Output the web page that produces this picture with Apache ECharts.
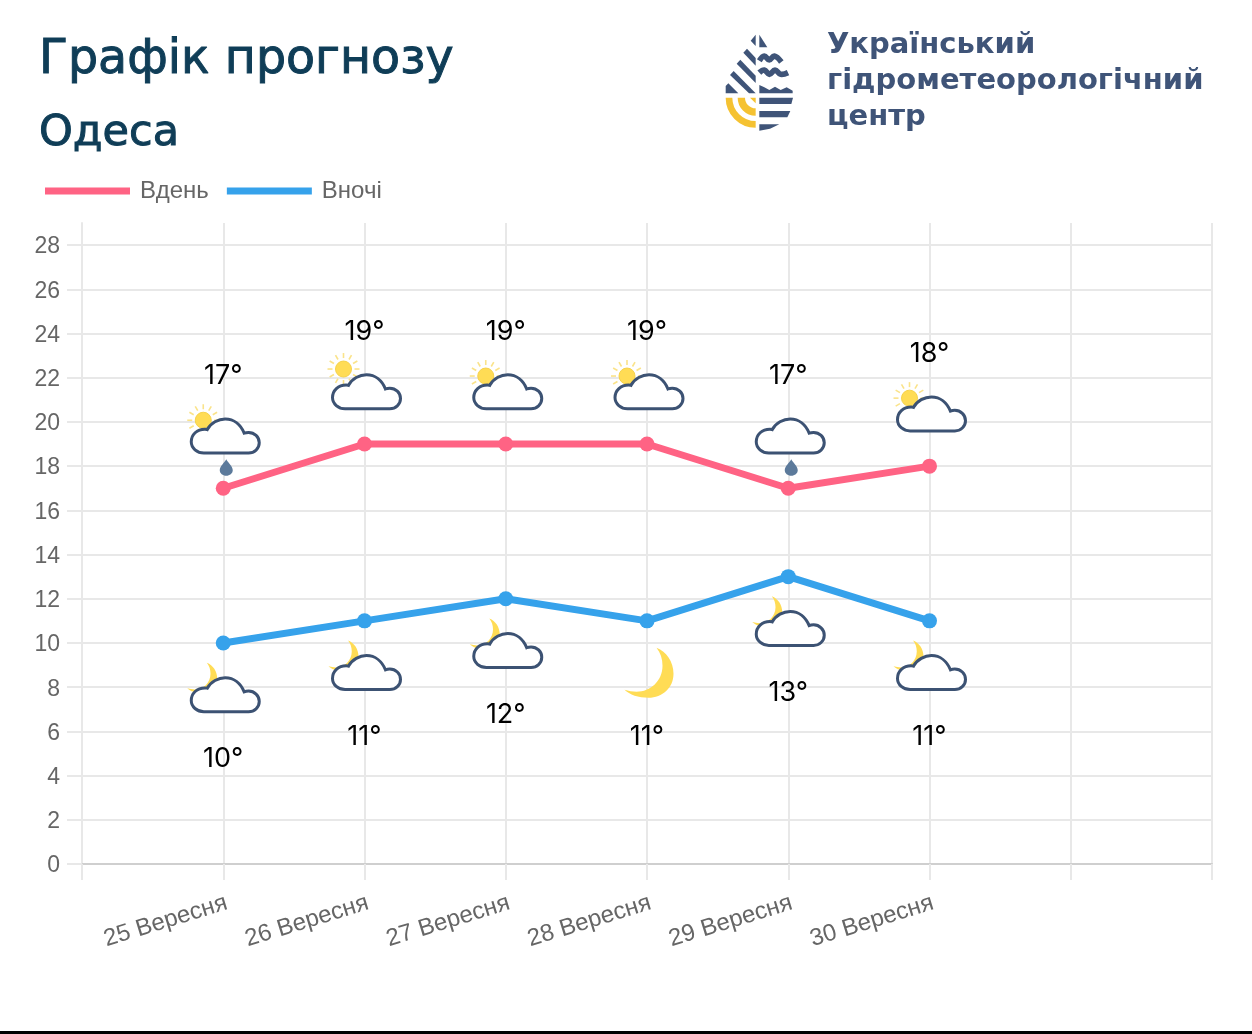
<!DOCTYPE html>
<html>
<head>
<meta charset="utf-8">
<title>Графік прогнозу</title>
<script src="https://cdn.jsdelivr.net/npm/echarts@6/dist/echarts.min.js"></script>
<style>
html, body { margin: 0; padding: 0; background: #fff; }
#chart { width: 1252px; height: 1034px; }
</style>
</head>
<body>
<div id="chart"></div>
<script>
// data
const days = ['', '25 Вересня', '26 Вересня', '27 Вересня', '28 Вересня', '29 Вересня', '30 Вересня', '', ''];
const dayTemps = ['-', 17, 19, 19, 19, 17, 18, '-', '-'];
const nightTemps = ['-', 10, 11, 12, 11, 13, 11, '-', '-'];
const dayIcons = ['', 'sunRain', 'sunHigh', 'sun', 'sun', 'rain', 'sun', '', ''];
const nightIcons = ['', 'moonCloud', 'moonCloud', 'moonCloud', 'moon', 'moonCloud', 'moonCloud', '', ''];
const yTicks = [0, 2, 4, 6, 8, 10, 12, 14, 16, 18, 20, 22, 24, 26, 28];

const PINK = '#ff6384';
const BLUE = '#36a2eb';
const GRID = '#e8e8e8';
const CLOUD = '#3c5273';
const YELLOW = '#ffdc55';
const LOGO = '#3f5478';
const LOGO_YELLOW = '#f5c232';
const TITLE = '#0f3d57';

const CLOUD_PATH = 'M13 35C6 35 0 30 0 23.5C0 16 6 10.5 14 10.5C15 10.5 16 10.6 16.5 10.8C20 4 28 0 35 0C44 0 51 6 54.5 14.6C56 14 57.5 13.8 59 13.8C65 13.8 70 18.5 70 24.5C70 30.5 65 35 59 35Z';
const MOON_PATH = 'M32 0C42 4 49 14 49 26C49 40 38 50 24 50C14 50 5 47 0 42C4 43 8 44 12 44C26 44 38 33 38 18C38 11 36 5 32 0Z';
const DROP_PATH = 'M6.5 0C8 3 13 7 13 11C13 14 10 16.5 6.5 16.5C3 16.5 0 14 0 11C0 7 5 3 6.5 0Z';

function cloud(cx, cy) {
    return {
        type: 'path',
        shape: { pathData: CLOUD_PATH, x: cx - 34, y: cy - 18, width: 68, height: 35.5 },
        style: { fill: '#fff', stroke: CLOUD, lineWidth: 3 }
    };
}

function moon(cx, cy, w, h) {
    return {
        type: 'path',
        shape: { pathData: MOON_PATH, x: cx - w / 2, y: cy - h / 2, width: w, height: h },
        style: { fill: YELLOW }
    };
}

function sun(cx, cy) {
    const out = [{
        type: 'circle',
        shape: { cx: cx, cy: cy, r: 8 },
        style: { fill: YELLOW, stroke: '#f6d24a', lineWidth: 1 }
    }];
    for (let i = 0; i < 12; i++) {
        const a = i * Math.PI / 6;
        out.push({
            type: 'line',
            shape: {
                x1: cx + Math.cos(a) * 11, y1: cy + Math.sin(a) * 11,
                x2: cx + Math.cos(a) * 16, y2: cy + Math.sin(a) * 16
            },
            style: { stroke: '#fae38a', lineWidth: 1.6 }
        });
    }
    return out;
}

function drawIcon(kind, x, y) {
    if (kind === 'moon') return [moon(x + 2, y + 52, 49, 50)];
    if (kind === 'moonCloud') {
        return [moon(x - 21, y + 35, 30, 30.6), cloud(x + 2, y + 52)];
    }
    const cy = y - 52;
    let kids = [];
    if (kind === 'sunHigh') kids = sun(x - 21, cy - 23);
    if (kind === 'sun' || kind === 'sunRain') kids = sun(x - 20, cy - 16);
    kids.push(cloud(x + 2, cy));
    if (kind === 'sunRain' || kind === 'rain') {
        kids.push({
            type: 'path',
            shape: { pathData: DROP_PATH, x: x - 3.5, y: y - 29, width: 13, height: 16.5 },
            style: { fill: '#5c7a9b' }
        });
    }
    return kids;
}

function iconSeries(temps, icons) {
    return {
        type: 'custom',
        coordinateSystem: 'cartesian2d',
        silent: true,
        clip: false,
        z: 1,
        data: temps.map((t, i) => [i, t]),
        encode: { x: 0, y: 1 },
        renderItem: function (params, api) {
            const kind = icons[params.dataIndex];
            if (!kind) return null;
            const p = api.coord([api.value(0), api.value(1)]);
            return { type: 'group', children: drawIcon(kind, p[0], p[1]) };
        }
    };
}

function tempSeries(name, temps, color, shift) {
    return {
        name: name,
        type: 'line',
        data: temps,
        z: 3,
        symbol: 'circle',
        symbolSize: 15,
        lineStyle: { color: color, width: 7 },
        itemStyle: { color: color },
        label: {
            show: true,
            position: 'inside',
            offset: [0, shift],
            formatter: '{c}°',
            color: '#000',
            fontFamily: 'Inter',
            fontSize: 27
        }
    };
}

// logo, drawn in 3x units then scaled down
function logoPoly(points, fill) {
    return { type: 'polygon', shape: { points: points }, style: { fill: fill } };
}
function logoWave(points, width) {
    return { type: 'polyline', shape: { points: points, smooth: 0.4 }, style: { stroke: LOGO, lineWidth: width, fill: null } };
}
function logoArc(r, width) {
    return {
        type: 'arc',
        shape: { cx: 107, cy: 203, r: r, startAngle: Math.PI / 2, endAngle: Math.PI, clockwise: true },
        style: { stroke: LOGO_YELLOW, lineWidth: width, fill: null, lineCap: 'butt' }
    };
}
const logoParts = [
    logoPoly([[92, 32], [107, 14], [107, 48]], LOGO),
    logoPoly([[118, 14], [118, 52], [142, 52]], LOGO),
    logoPoly([[70, 68], [81, 56], [107, 84], [107, 107]], LOGO),
    logoPoly([[50, 101], [61, 89], [107, 137], [107, 159]], LOGO),
    logoPoly([[30, 135], [41, 123], [107, 190], [87, 190]], LOGO),
    logoPoly([[17, 168], [25, 160], [55, 190], [17, 190]], LOGO),
    logoWave([[118, 92], [133, 78], [148, 90], [163, 78], [184, 96]], 17),
    logoWave([[118, 128], [133, 120], [148, 133], [165, 120], [182, 133], [204, 128]], 17),
    logoPoly([[118, 165], [133, 172], [148, 180], [165, 170], [182, 180], [200, 172], [218, 182], [218, 190], [118, 190]], LOGO),
    logoPoly([[118, 203], [219, 203], [214, 222], [118, 222]], LOGO),
    logoPoly([[118, 243], [211, 243], [202, 262], [118, 262]], LOGO),
    logoPoly([[118, 283], [178, 283], [150, 296], [118, 302]], LOGO),
    logoArc(80, 20),
    logoArc(43, 22),
    logoPoly([[90, 203], [107, 203], [107, 220]], LOGO_YELLOW)
];

const chart = echarts.init(document.getElementById('chart'));

chart.setOption({
    animation: false,
    backgroundColor: '#fff',
    textStyle: { fontFamily: 'Liberation Sans' },
    title: [
        { text: 'Графік прогнозу', left: 39, top: 37, padding: 0, textStyle: { fontFamily: 'DejaVu Sans', fontWeight: 400, fontSize: 47.5, color: TITLE, textBorderColor: TITLE, textBorderWidth: 1 } },
        { text: 'Одеса', left: 39, top: 112, padding: 0, textStyle: { fontFamily: 'DejaVu Sans', fontWeight: 400, fontSize: 43, color: TITLE, textBorderColor: TITLE, textBorderWidth: 1 } }
    ],
    legend: {
        left: 45,
        top: 179,
        padding: 0,
        icon: 'rect',
        itemWidth: 85,
        itemHeight: 7,
        itemGap: 18,
        selectedMode: false,
        data: ['Вдень', 'Вночі'],
        textStyle: { fontFamily: 'Liberation Sans', fontSize: 24, color: '#666', padding: [0, 0, 0, 5] }
    },
    grid: { left: 82, right: 40, top: 223, bottom: 170 },
    xAxis: {
        type: 'category',
        boundaryGap: false,
        data: days,
        axisLine: { show: true, lineStyle: { color: '#cfcfcf', width: 2 } },
        axisTick: { show: true, length: 16, lineStyle: { color: GRID, width: 2 } },
        axisLabel: { interval: 0, rotate: 17, margin: 27, verticalAlign: 'top', fontFamily: 'Liberation Sans', fontSize: 24, color: '#666' },
        splitLine: { show: true, lineStyle: { color: GRID, width: 2 } }
    },
    yAxis: {
        type: 'value',
        min: 0,
        max: 29,
        interval: 2,
        axisLine: { show: true, lineStyle: { color: GRID, width: 2 } },
        axisTick: { show: true, length: 15, customValues: yTicks, lineStyle: { color: GRID, width: 2 } },
        axisLabel: { margin: 22, customValues: yTicks, verticalAlign: 'top', lineHeight: 4, fontFamily: 'Liberation Sans', fontSize: 23, color: '#666' },
        splitLine: { show: true, lineStyle: { color: GRID, width: 2 } }
    },
    series: [
        iconSeries(dayTemps, dayIcons),
        iconSeries(nightTemps, nightIcons),
        tempSeries('Вдень', dayTemps, PINK, -112),
        tempSeries('Вночі', nightTemps, BLUE, 116)
    ],
    graphic: [
        { type: 'group', x: 720, y: 30, scaleX: 1 / 3, scaleY: 1 / 3, children: logoParts },
        { type: 'text', x: 827, y: 31, style: { text: 'Український', fontFamily: 'DejaVu Sans', fontWeight: 700, fontSize: 29, fill: LOGO } },
        { type: 'text', x: 827, y: 67, style: { text: 'гідрометеорологічний', fontFamily: 'DejaVu Sans', fontWeight: 700, fontSize: 29, fill: LOGO } },
        { type: 'text', x: 827, y: 103, style: { text: 'центр', fontFamily: 'DejaVu Sans', fontWeight: 700, fontSize: 29, fill: LOGO } },
        { type: 'rect', shape: { x: 0, y: 1031, width: 1252, height: 3 }, style: { fill: '#000' } }
    ]
});
</script>
</body>
</html>
